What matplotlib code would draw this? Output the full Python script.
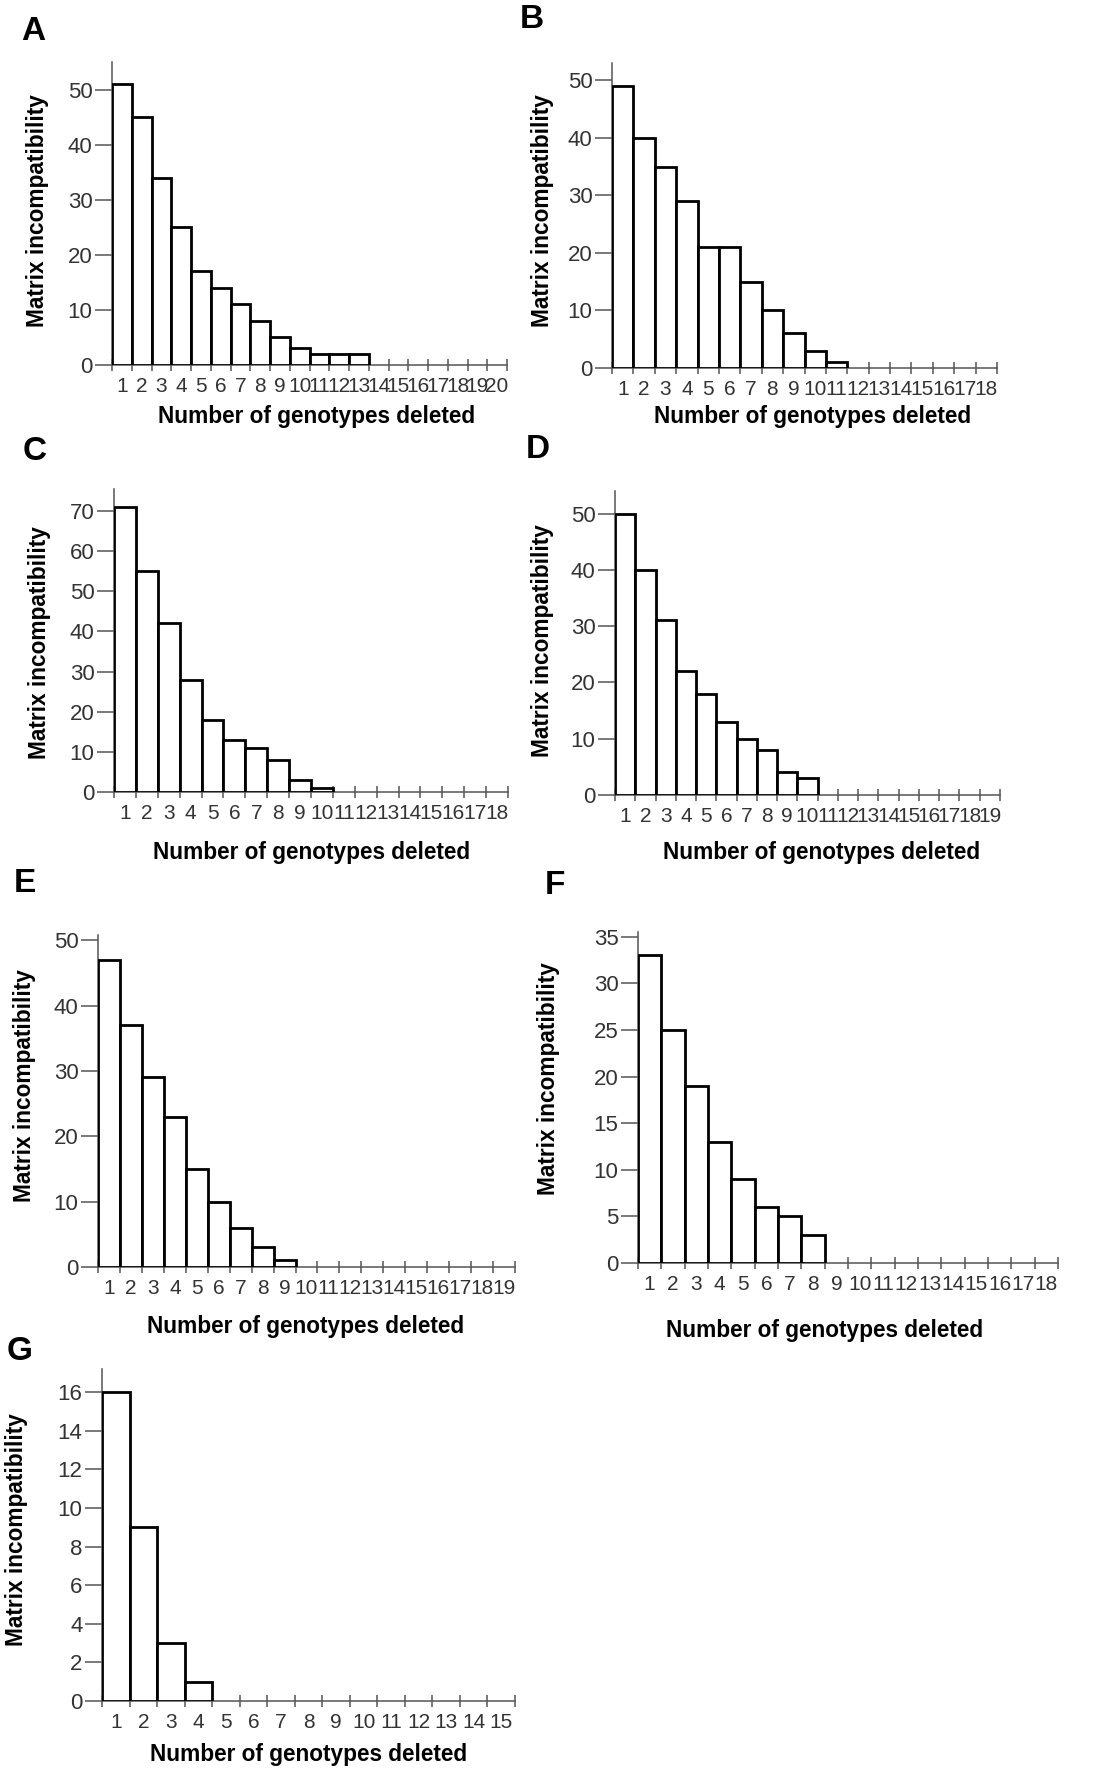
import numpy as np
import matplotlib
matplotlib.use("Agg")
import matplotlib.pyplot as plt

plt.rcParams['font.family'] = ['Liberation Sans', 'DejaVu Sans']

#%% DATA

panels = ["A", "B", "C", "D", "E", "F", "G"]
n_bins = [20, 18, 18, 19, 19, 18, 15]

vals_A = [51, 45, 34, 25, 17, 14, 11, 8, 5, 3, 2, 2, 2]
vals_B = [49, 40, 35, 29, 21, 21, 15, 10, 6, 3, 1]
vals_C = [71, 55, 42, 28, 18, 13, 11, 8, 3, 1]
vals_D = [50, 40, 31, 22, 18, 13, 10, 8, 4, 3]
vals_E = [47, 37, 29, 23, 15, 10, 6, 3, 1]
vals_F = [33, 25, 19, 13, 9, 6, 5, 3]
vals_G = [16, 9, 3, 1]
values = [vals_A, vals_B, vals_C, vals_D, vals_E, vals_F, vals_G]

ytick_max = [50, 50, 70, 50, 50, 35, 16]
ytick_step = [10, 10, 10, 10, 10, 5, 2]

xlabel = "Number of genotypes deleted"
ylabel = "Matrix incompatibility"

#%% LAYOUT (pixels)

W, H = 1095, 1775
# left, right, bottom (y=0), top of axis
rects = [(112, 507, 365, 62), (612, 997, 368, 63), (114, 508, 792, 489),
         (615, 1000, 795, 491), (98, 515, 1267, 935), (638, 1058, 1263, 932),
         (102, 515, 1701, 1369)]
ylims = [55, 53, 75.5, 54, 50.8, 35.5, 17.2]
letter_pos = [(33, 32), (532, 19), (35, 452), (538, 449), (25, 883), (555, 885), (20, 1351)]
xlab_pos = [(317, 417), (813, 417), (312, 852), (822, 852), (306, 1327), (825, 1330), (309, 1755)]
ylab_pos = [(38, 211), (542, 211), (40, 643), (543, 641), (25, 1086), (548, 1079), (17, 1530)]

fig = plt.figure(figsize=(W / 100, H / 100), dpi=100)
grey = '#555555'
tick_grey = '#333333'

for i in range(len(panels)):
    l, r, b, t = rects[i]
    ax = fig.add_axes([l / W, 1 - b / H, (r - l) / W, (b - t) / H])
    v = values[i]
    x = np.arange(len(v)) + 0.5
    ax.bar(x, v, width=1, facecolor='white', edgecolor='black', linewidth=2.0, zorder=3)
    ax.set_xlim(0, n_bins[i])
    ax.set_ylim(0, ylims[i])
    for s in ['top', 'right']:
        ax.spines[s].set_visible(False)
    for s in ['left', 'bottom']:
        ax.spines[s].set_color(grey)
        ax.spines[s].set_linewidth(1.1)
    # tick marks at bin edges, labels at bin centres
    ax.set_xticks(np.arange(n_bins[i] + 1))
    ax.set_xticklabels([])
    ax.set_xticks(np.arange(n_bins[i]) + 0.5, minor=True)
    ax.set_xticklabels([str(k + 1) for k in range(n_bins[i])], minor=True)
    ax.tick_params(axis='x', which='major', direction='inout', length=9, width=1.1, color=grey)
    ax.tick_params(axis='x', which='minor', length=0, pad=8.5, labelsize=15, labelcolor=tick_grey)
    ax.set_yticks(np.arange(0, ytick_max[i] + 1, ytick_step[i]))
    ax.tick_params(axis='y', direction='out', length=12.5, width=1.1, color=grey,
                   pad=1.5, labelsize=16, labelcolor=tick_grey)

    lx, ly = letter_pos[i]
    fig.text(lx / W, 1 - ly / H, panels[i], fontsize=24, fontweight='bold',
             ha='center', va='center')
    xx, xy = xlab_pos[i]
    fig.text(xx / W, 1 - xy / H, xlabel, fontsize=16.3, fontweight='bold',
             ha='center', va='center')
    yx, yy = ylab_pos[i]
    fig.text(yx / W, 1 - yy / H, ylabel, fontsize=16.3, fontweight='bold',
             ha='center', va='center', rotation=90)

fig.savefig("out.png", dpi=100)
